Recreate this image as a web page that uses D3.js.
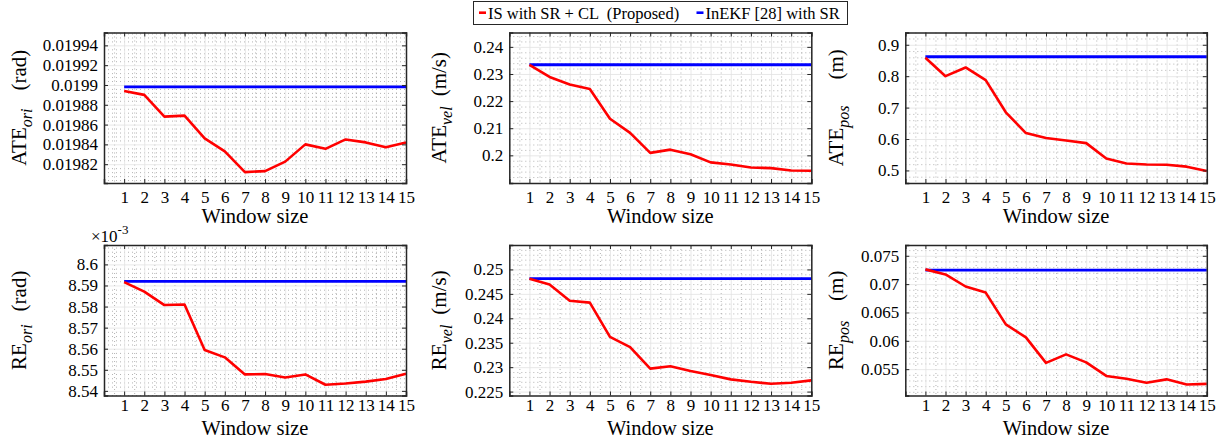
<!DOCTYPE html>
<html>
<head>
<meta charset="utf-8">
<script src="https://cdn.jsdelivr.net/npm/d3@7"></script>
<style>
  body { margin: 0; background: #fff; }
  svg { display: block; }
  text { font-family: "Liberation Serif", "Times New Roman", serif; fill: #000; }
</style>
</head>
<body>
<svg id="chart" width="1229" height="444"></svg>
<script>
// window sizes on the x axis
var windowSize = [1, 2, 3, 4, 5, 6, 7, 8, 9, 10, 11, 12, 13, 14, 15];

// ATE orientation (rad)
var ateOriProposed = [0.019894, 0.019890, 0.019868, 0.019869, 0.019846, 0.019833, 0.019812, 0.019813,
                      0.0198226, 0.019840, 0.0198355, 0.019845, 0.019842, 0.019837, 0.019842];
var ateOriInekf = [0.019898, 0.019898, 0.019898, 0.019898, 0.019898, 0.019898, 0.019898, 0.019898,
                   0.019898, 0.019898, 0.019898, 0.019898, 0.019898, 0.019898, 0.019898];
var ateOriTicks = [0.01982, 0.01984, 0.01986, 0.01988, 0.0199, 0.01992, 0.01994];
var ateOriLabels = ["0.01982", "0.01984", "0.01986", "0.01988", "0.0199", "0.01992", "0.01994"];

// ATE velocity (m/s)
var ateVelProposed = [0.2334, 0.2289, 0.2261, 0.2245, 0.2135, 0.2083, 0.2009, 0.2021,
                      0.2004, 0.1974, 0.1966, 0.1955, 0.1953, 0.1944, 0.1943];
var ateVelInekf = [0.2334, 0.2334, 0.2334, 0.2334, 0.2334, 0.2334, 0.2334, 0.2334,
                   0.2334, 0.2334, 0.2334, 0.2334, 0.2334, 0.2334, 0.2334];
var ateVelTicks = [0.2, 0.21, 0.22, 0.23, 0.24];
var ateVelLabels = ["0.2", "0.21", "0.22", "0.23", "0.24"];

// ATE position (m)
var atePosProposed = [0.8586, 0.800, 0.8277, 0.7873, 0.685, 0.619, 0.603, 0.595,
                      0.587, 0.538, 0.522, 0.519, 0.518, 0.512, 0.498];
var atePosInekf = [0.8618, 0.8618, 0.8618, 0.8618, 0.8618, 0.8618, 0.8618, 0.8618,
                   0.8618, 0.8618, 0.8618, 0.8618, 0.8618, 0.8618, 0.8618];
var atePosTicks = [0.5, 0.6, 0.7, 0.8, 0.9];
var atePosLabels = ["0.5", "0.6", "0.7", "0.8", "0.9"];

// RE orientation (x10^-3 rad)
var reOriProposed = [8.5916, 8.5871, 8.5807, 8.5810, 8.5594, 8.5559, 8.5478, 8.5480,
                     8.5463, 8.5478, 8.5429, 8.5435, 8.5444, 8.5456, 8.5481];
var reOriInekf = [8.5919, 8.5919, 8.5919, 8.5919, 8.5919, 8.5919, 8.5919, 8.5919,
                  8.5919, 8.5919, 8.5919, 8.5919, 8.5919, 8.5919, 8.5919];
var reOriTicks = [8.54, 8.55, 8.56, 8.57, 8.58, 8.59, 8.6];
var reOriLabels = ["8.54", "8.55", "8.56", "8.57", "8.58", "8.59", "8.6"];

// RE velocity (m/s)
var reVelProposed = [0.2481, 0.2469, 0.2436, 0.2432, 0.2362, 0.2341, 0.2297, 0.2302,
                     0.2292, 0.2284, 0.2275, 0.2270, 0.2266, 0.2268, 0.2273];
var reVelInekf = [0.2481, 0.2481, 0.2481, 0.2481, 0.2481, 0.2481, 0.2481, 0.2481,
                  0.2481, 0.2481, 0.2481, 0.2481, 0.2481, 0.2481, 0.2481];
var reVelTicks = [0.225, 0.23, 0.235, 0.24, 0.245, 0.25];
var reVelLabels = ["0.225", "0.23", "0.235", "0.24", "0.245", "0.25"];

// RE position (m)
var rePosProposed = [0.0726, 0.0717, 0.06958, 0.0685, 0.0629, 0.0606, 0.0561, 0.0576,
                     0.0562, 0.0538, 0.0533, 0.0526, 0.0532, 0.0523, 0.0524];
var rePosInekf = [0.07247, 0.07247, 0.07247, 0.07247, 0.07247, 0.07247, 0.07247, 0.07247,
                  0.07247, 0.07247, 0.07247, 0.07247, 0.07247, 0.07247, 0.07247];
var rePosTicks = [0.055, 0.06, 0.065, 0.07, 0.075];
var rePosLabels = ["0.055", "0.06", "0.065", "0.07", "0.075"];

var legendNames = ["IS with SR + CL  (Proposed)", "InEKF [28] with SR"];
var colors = ["#ff0000", "#0000ff"];

var serif = '"Liberation Serif", "Times New Roman", serif';
var svg = d3.select("#chart");

var cols = [104, 509.3, 905.3],
    colW = [302, 302, 301.5],
    labelX = [26, 446, 843];
var rows = [{top: 32.5, h: 150.5, tickPad: 8, titleY: 223},
            {top: 245, h: 150.5, tickPad: 3, titleY: 435}];

var panels = [
  {r: 0, c: 0, a: ateOriProposed, b: ateOriInekf, dom: [0.019801, 0.019953], ticks: ateOriTicks, labels: ateOriLabels, name: "ATE", sub: "ori", unit: "(rad)", gap: 18},
  {r: 0, c: 1, a: ateVelProposed, b: ateVelInekf, dom: [0.1898, 0.2453], ticks: ateVelTicks, labels: ateVelLabels, name: "ATE", sub: "vel", unit: "(m/s)", gap: 10},
  {r: 0, c: 2, a: atePosProposed, b: atePosInekf, dom: [0.46, 0.939], ticks: atePosTicks, labels: atePosLabels, name: "ATE", sub: "pos", unit: "(m)", gap: 26},
  {r: 1, c: 0, a: reOriProposed, b: reOriInekf, dom: [8.5378, 8.6092], ticks: reOriTicks, labels: reOriLabels, name: "RE", sub: "ori", unit: "(rad)", gap: 13},
  {r: 1, c: 1, a: reVelProposed, b: reVelInekf, dom: [0.2242, 0.255], ticks: reVelTicks, labels: reVelLabels, name: "RE", sub: "vel", unit: "(m/s)", gap: 10},
  {r: 1, c: 2, a: rePosProposed, b: rePosInekf, dom: [0.05035, 0.0769], ticks: rePosTicks, labels: rePosLabels, name: "RE", sub: "pos", unit: "(m)", gap: 20}
];

panels.forEach(drawPanel);

function drawPanel(p) {
  var row = rows[p.r],
      w = colW[p.c],
      h = row.h;
  var g = svg.append("g")
      .attr("transform", "translate(" + cols[p.c] + "," + row.top + ")");

  var x = d3.scaleLinear().domain([0, 15]).range([0, w]);
  var y = d3.scaleLinear().domain(p.dom).range([h, 0]);

  // minor grid (dotted)
  var xMinor = d3.range(0.5, 15, 1);
  var step = (p.ticks[1] - p.ticks[0]) / 5;
  var yMinor = [];
  for (var k = -10; k < 60; k++) {
    var v = p.ticks[0] + k * step;
    if (v > p.dom[0] && v < p.dom[1] && ((k % 5) + 5) % 5 !== 0) yMinor.push(v);
  }

  g.append("g")
      .attr("class", "grid minor")
      .call(d3.axisBottom(x).tickValues(xMinor).tickSize(h).tickFormat(""));
  g.append("g")
      .attr("class", "grid minor")
      .call(d3.axisLeft(y).tickValues(yMinor).tickSize(-w).tickFormat(""));

  // major grid (light solid)
  g.append("g")
      .attr("class", "grid major")
      .call(d3.axisBottom(x).tickValues(windowSize).tickSize(h).tickFormat(""));
  g.append("g")
      .attr("class", "grid major")
      .call(d3.axisLeft(y).tickValues(p.ticks).tickSize(-w).tickFormat(""));

  g.selectAll(".grid .domain").remove();
  g.selectAll(".grid.minor line")
      .attr("stroke", "#a0a0a0")
      .attr("stroke-width", 0.8)
      .attr("stroke-dasharray", "1,3");
  g.selectAll(".grid.major line")
      .attr("stroke", "#e2e2e2")
      .attr("stroke-width", 0.8);

  // series
  var line = d3.line()
      .x(function(d, i) { return x(windowSize[i]); })
      .y(function(d) { return y(d); });

  g.append("path")
      .datum(p.b)
      .attr("fill", "none")
      .attr("stroke", colors[1])
      .attr("stroke-width", 2.8)
      .attr("d", line);

  g.append("path")
      .datum(p.a)
      .attr("fill", "none")
      .attr("stroke", colors[0])
      .attr("stroke-width", 2.6)
      .attr("stroke-linejoin", "round")
      .attr("d", line);

  // box with inward ticks on all sides
  var axes = [
    g.append("g").call(d3.axisLeft(y).tickValues(p.ticks).tickSize(-4).tickFormat("")),
    g.append("g").attr("transform", "translate(" + w + ",0)")
      .call(d3.axisRight(y).tickValues(p.ticks).tickSize(-4).tickFormat("")),
    g.append("g").call(d3.axisTop(x).tickValues(windowSize).tickSize(-4).tickFormat("")),
    g.append("g").attr("transform", "translate(0," + h + ")")
      .call(d3.axisBottom(x).tickValues(windowSize).tickSize(-4).tickFormat(""))
  ];
  axes.forEach(function(a) {
    a.select(".domain").attr("stroke", "#262626").attr("stroke-width", 1.5);
    a.selectAll(".tick line").attr("stroke", "#262626").attr("stroke-width", 1);
  });

  // tick labels
  var yl = g.append("g")
      .call(d3.axisLeft(y).tickValues(p.ticks).tickSize(0).tickPadding(6)
        .tickFormat(function(d, i) { return p.labels[i]; }));
  var xl = g.append("g")
      .attr("transform", "translate(0," + h + ")")
      .call(d3.axisBottom(x).tickValues(windowSize).tickSize(0).tickPadding(row.tickPad));
  [yl, xl].forEach(function(a) {
    a.attr("font-family", null).attr("font-size", null);
    a.select(".domain").remove();
    a.selectAll("text")
      .style("font-family", serif)
      .style("font-size", "17px")
      .attr("fill", "#000");
  });

  // x title
  g.append("text")
      .attr("x", w / 2)
      .attr("y", row.titleY - row.top)
      .attr("text-anchor", "middle")
      .style("font-size", "20.5px")
      .text("Window size");

  // y title
  var t = svg.append("text")
      .attr("transform", "translate(" + labelX[p.c] + "," + (row.top + h / 2) + ") rotate(-90)")
      .attr("text-anchor", "middle")
      .style("font-size", "21px");
  t.append("tspan").text(p.name);
  t.append("tspan").attr("font-style", "italic").style("font-size", "16px").attr("dy", 6).text(p.sub);
  t.append("tspan").attr("dy", -6).attr("dx", p.gap).text(p.unit);
}

// exponent note on RE_ori
var ex = svg.append("text")
    .attr("x", 91)
    .attr("y", 242)
    .style("font-size", "17px")
    .attr("fill", "#262626");
ex.append("tspan").text("\u00d710");
ex.append("tspan").style("font-size", "13px").attr("dy", -8).text("-3");

// legend
var legend = svg.append("g");
legend.append("rect")
    .attr("x", 473.5).attr("y", 1.5)
    .attr("width", 374).attr("height", 23)
    .attr("fill", "#fff")
    .attr("stroke", "#262626")
    .attr("stroke-width", 1);
var legendX = [479, 696.5];
legendNames.forEach(function(name, i) {
  legend.append("line")
      .attr("x1", legendX[i]).attr("x2", legendX[i] + 7)
      .attr("y1", 12.7).attr("y2", 12.7)
      .attr("stroke", colors[i])
      .attr("stroke-width", 2.6);
  legend.append("text")
      .attr("x", legendX[i] + 9)
      .attr("y", 18.5)
      .style("font-size", "16.5px")
      .style("white-space", "pre")
      .text(name);
});
</script>
</body>
</html>
